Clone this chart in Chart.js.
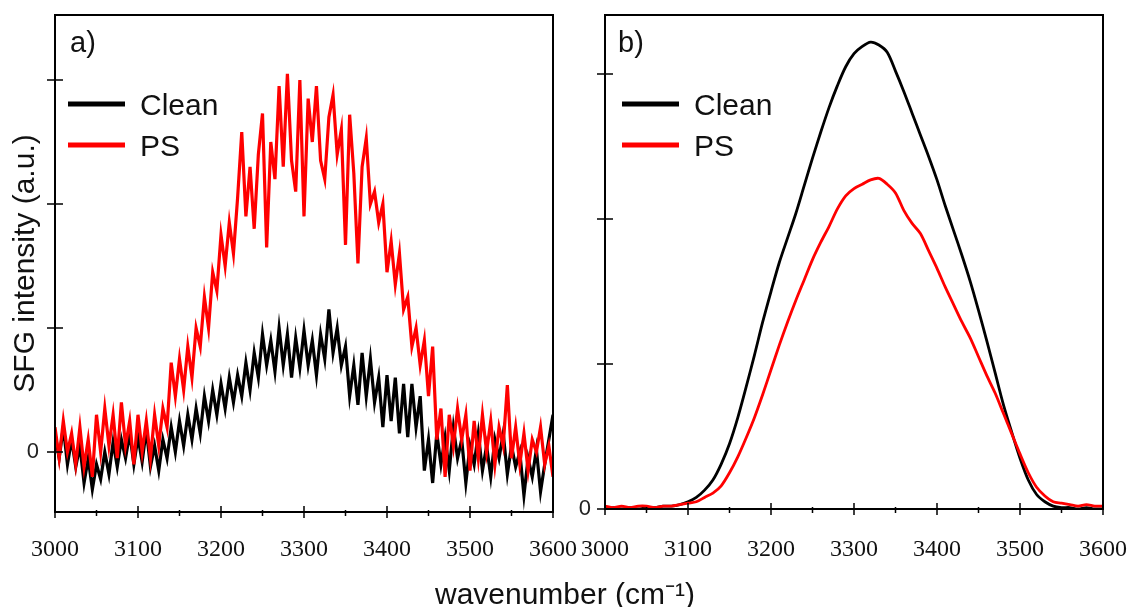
<!DOCTYPE html>
<html>
<head>
<meta charset="utf-8">
<script src="https://cdn.jsdelivr.net/npm/chart.js@4.4.1/dist/chart.umd.min.js"></script>
<style>
  html, body { margin:0; padding:0; background:#fff; }
  #wrap { position:relative; width:1133px; height:607px; overflow:hidden; background:#fff; }
  canvas { position:absolute; top:0; }
  #cA { left:0; }
  #cB { left:560px; }
  #xtitle { position:absolute; left:0; width:1130px; top:572px; line-height:34px; text-align:center;
            font:30px "Liberation Sans", Arial, sans-serif; color:#111; }
</style>
</head>
<body>
<div id="wrap">
  <canvas id="cA" width="600" height="607"></canvas>
  <canvas id="cB" width="573" height="607"></canvas>
  <div id="xtitle">wavenumber (cm⁻¹)</div>
</div>
<script>
// ---- data ----
const waveA = [
  3000,3005,3010,3015,3020,3025,3030,3035,3040,3045,3050,3055,3060,3065,3070,3075,3080,3085,3090,3095,
  3100,3105,3110,3115,3120,3125,3130,3135,3140,3145,3150,3155,3160,3165,3170,3175,3180,3185,3190,3195,
  3200,3205,3210,3215,3220,3225,3230,3235,3240,3245,3250,3255,3260,3265,3270,3275,3280,3285,3290,3295,
  3300,3305,3310,3315,3320,3325,3330,3335,3340,3345,3350,3355,3360,3365,3370,3375,3380,3385,3390,3395,
  3400,3405,3410,3415,3420,3425,3430,3435,3440,3445,3450,3455,3460,3465,3470,3475,3480,3485,3490,3495,
  3500,3505,3510,3515,3520,3525,3530,3535,3540,3545,3550,3555,3560,3565,3570,3575,3580,3585,3590,3595,
  3600
];
const cleanA = [
  0.15,-0.05,0.2,-0.1,0.1,-0.12,0.05,-0.25,-0.05,-0.3,-0.1,-0.22,0.0,-0.18,0.08,-0.12,0.1,-0.05,0.15,-0.1,
  0.12,-0.08,0.18,-0.12,0.05,-0.15,0.1,-0.05,0.2,0.0,0.25,0.05,0.3,0.1,0.35,0.15,0.45,0.25,0.5,0.3,
  0.55,0.35,0.6,0.4,0.62,0.45,0.72,0.5,0.8,0.6,0.95,0.7,0.9,0.65,1.0,0.7,0.95,0.6,0.92,0.68,
  0.98,0.7,0.9,0.62,0.95,0.75,1.15,0.8,1.0,0.7,0.85,0.45,0.7,0.38,0.8,0.45,0.75,0.4,0.6,0.2,
  0.62,0.25,0.6,0.15,0.55,0.12,0.55,0.2,0.45,-0.15,0.1,-0.25,0.15,-0.1,0.12,-0.15,0.2,-0.05,0.1,-0.25,
  0.05,-0.1,0.15,-0.15,0.05,-0.2,0.1,-0.05,0.15,-0.18,0.05,-0.12,0.0,-0.35,-0.05,-0.2,0.02,-0.32,-0.1,0.1,
  0.3
];
const psA = [
  0.2,-0.05,0.25,0.0,0.15,-0.1,0.2,-0.12,0.1,-0.2,0.3,0.0,0.35,0.05,0.3,-0.05,0.4,0.05,0.25,-0.1,
  0.3,0.0,0.25,-0.05,0.3,0.05,0.35,0.2,0.72,0.45,0.75,0.5,0.85,0.6,1.0,0.85,1.25,1.0,1.45,1.3,
  1.75,1.5,1.85,1.6,2.05,2.58,1.9,2.3,1.8,2.4,2.73,1.65,2.5,2.2,2.95,2.3,3.05,2.35,2.1,3.0,
  1.9,2.85,2.5,2.95,2.35,2.2,2.7,2.88,2.4,2.6,1.67,2.72,2.25,1.52,2.3,2.53,2.0,2.1,1.85,2.0,
  1.45,1.7,1.35,1.6,1.15,1.25,0.85,1.0,0.7,0.9,0.45,0.85,0.1,0.35,-0.2,0.3,0.05,0.35,0.1,0.3,
  -0.15,0.25,-0.05,0.3,0.0,0.25,-0.1,0.2,0.05,0.54,-0.05,0.2,-0.1,0.15,-0.15,0.1,0.0,0.2,-0.1,0.05,
  -0.2
];

const waveB = [
  3000,3010,3020,3030,3040,3050,3060,3070,3080,3090,
  3100,3110,3120,3130,3140,3150,3160,3170,3180,3190,
  3200,3210,3220,3230,3240,3250,3260,3270,3280,3290,
  3300,3310,3320,3330,3340,3350,3360,3370,3380,3390,
  3400,3410,3420,3430,3440,3450,3460,3470,3480,3490,
  3500,3510,3520,3530,3540,3550,3560,3570,3580,3590,
  3600
];
const cleanB = [
  0.0,0.01,0.0,0.01,0.0,0.01,0.01,0.02,0.02,0.03,
  0.05,0.08,0.13,0.2,0.31,0.45,0.63,0.84,1.06,1.29,
  1.5,1.7,1.87,2.04,2.23,2.42,2.6,2.77,2.92,3.05,
  3.14,3.19,3.22,3.2,3.15,3.02,2.88,2.73,2.58,2.43,
  2.27,2.09,1.92,1.75,1.57,1.37,1.16,0.94,0.72,0.53,
  0.35,0.2,0.1,0.05,0.02,0.01,0.01,0.0,0.01,0.0,
  0.0
];
const psB = [
  0.02,0.01,0.02,0.01,0.02,0.02,0.01,0.02,0.02,0.03,
  0.04,0.05,0.08,0.11,0.16,0.25,0.36,0.49,0.63,0.79,
  0.96,1.13,1.29,1.44,1.58,1.72,1.84,1.95,2.07,2.16,
  2.21,2.24,2.27,2.28,2.24,2.18,2.06,1.97,1.9,1.78,
  1.66,1.53,1.41,1.29,1.18,1.05,0.92,0.8,0.66,0.52,
  0.38,0.25,0.15,0.09,0.05,0.04,0.03,0.02,0.03,0.02,
  0.02
];

const xTicks = [3000,3050,3100,3150,3200,3250,3300,3350,3400,3450,3500,3550,3600];
const yTicks = [0,1,2,3];
const seriesNames = ['Clean','PS'];

const sans = '"Liberation Sans", Arial, sans-serif';
const serif = '"Liberation Serif", "Times New Roman", serif';

// box, crossing ticks, panel letter, inset legend
const panelDeco = {
  id:'panelDeco',
  afterDraw(chart, args, o){
    const {ctx, chartArea:a, scales:{x, y}} = chart;
    ctx.save();
    ctx.strokeStyle = '#000';
    ctx.lineWidth = 2;
    ctx.strokeRect(a.left, a.top, a.right - a.left, a.bottom - a.top);
    ctx.lineWidth = 1.5;
    ctx.beginPath();
    x.ticks.forEach(t => {
      const px = x.getPixelForValue(t.value);
      const major = t.value % 100 === 0;
      ctx.moveTo(px, a.bottom - (major ? 6 : 2));
      ctx.lineTo(px, a.bottom + (major ? 6 : 4));
    });
    y.ticks.forEach(t => {
      const py = y.getPixelForValue(t.value);
      ctx.moveTo(a.left - 8, py);
      ctx.lineTo(a.left + 8, py);
    });
    ctx.stroke();

    ctx.fillStyle = '#111';
    ctx.font = '29px ' + sans;
    ctx.textBaseline = 'alphabetic';
    ctx.fillText(o.letter, a.left + o.letterDx, a.top + 37);

    ctx.font = '30px ' + sans;
    ctx.textBaseline = 'middle';
    chart.data.datasets.forEach((ds, i) => {
      const ly = a.top + 89 + i * 41;
      ctx.strokeStyle = ds.borderColor;
      ctx.lineWidth = 5;
      ctx.beginPath();
      ctx.moveTo(a.left + o.legDx, ly);
      ctx.lineTo(a.left + o.legDx + 57, ly);
      ctx.stroke();
      ctx.fillStyle = '#111';
      ctx.fillText(ds.label, a.left + o.legDx + 72, ly + 3);
    });
    ctx.restore();
  }
};

function pts(xs, ys){ return xs.map((v, i) => ({x:v, y:ys[i]})); }
// keep the plot box where the layout padding puts it
function noPad(s){ s.paddingLeft = 0; s.paddingRight = 0; s.paddingTop = 0; s.paddingBottom = 0; }

function makeChart(id, o){
  return new Chart(document.getElementById(id), {
    type:'line',
    data:{
      datasets:[
        {label:seriesNames[0], data:pts(o.wave, o.clean), borderColor:'#000000', borderWidth:o.lw,
         pointRadius:0, tension:o.tension, order:2},
        {label:seriesNames[1], data:pts(o.wave, o.ps), borderColor:'#ff0000', borderWidth:o.lw,
         pointRadius:0, tension:o.tension, order:1}
      ]
    },
    options:{
      responsive:false, animation:false, devicePixelRatio:1,
      layout:{padding:{left:0, top:15, right:o.padRight, bottom:0}},
      plugins:{legend:{display:false}, tooltip:{enabled:false}, panelDeco:o.deco},
      scales:{
        x:{
          type:'linear', min:3000, max:3600,
          grid:{display:false, drawTicks:false}, border:{display:false},
          afterBuildTicks:s => { s.ticks = xTicks.map(v => ({value:v})); },
          afterFit:s => { s.height = o.xH; noPad(s); },
          ticks:{autoSkip:false, maxRotation:0, padding:o.xPad, color:'#111',
                 font:{family:serif, size:24},
                 callback:v => v % 100 === 0 ? String(v) : ''}
        },
        y:{
          min:o.ymin, max:o.ymax,
          grid:{display:false, drawTicks:false}, border:{display:false},
          afterBuildTicks:s => { s.ticks = yTicks.map(v => ({value:v})); },
          afterFit:s => { s.width = o.yW; noPad(s); },
          ticks:{padding:o.yPad, color:'#222', font:{family:sans, size:22},
                 callback:v => v === 0 ? '0' : ''},
          title:{display:o.yTitle, text:'SFG intensity (a.u.)', color:'#111',
                 font:{family:sans, size:30}, padding:{top:8, bottom:0}}
        }
      }
    },
    plugins:[panelDeco]
  });
}

makeChart('cA', {
  wave:waveA, clean:cleanA, ps:psA, lw:3.2, tension:0,
  ymin:-0.484, ymax:3.524, yW:55, xH:95, padRight:47, xPad:23, yPad:16, yTitle:true,
  deco:{letter:'a)', letterDx:15, legDx:13}
});
makeChart('cB', {
  wave:waveB, clean:cleanB, ps:psB, lw:2.8, tension:0.3,
  ymin:0, ymax:3.407, yW:45, xH:98, padRight:30, xPad:26, yPad:14, yTitle:false,
  deco:{letter:'b)', letterDx:13, legDx:17}
});
</script>
</body>
</html>
